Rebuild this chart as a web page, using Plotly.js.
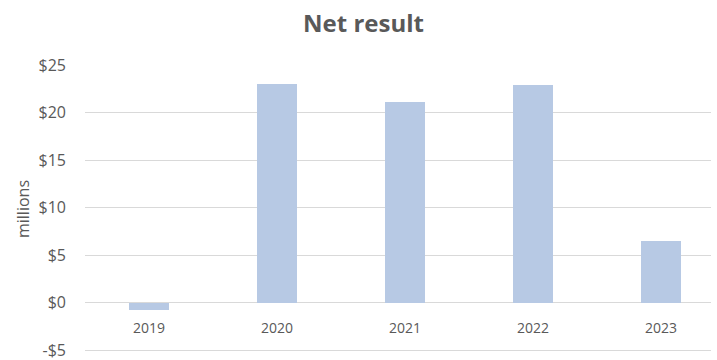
<!DOCTYPE html>
<html>
<head>
<meta charset="utf-8">
<script src="https://cdn.plot.ly/plotly-3.0.1.min.js"></script>
<style>html,body{margin:0;padding:0;background:#fff;overflow:hidden;width:717px;height:360px}#chart{width:717px;height:364px}</style>
</head>
<body>
<div id="chart"></div>
<script>
const years = ['2019', '2020', '2021', '2022', '2023'];
const netResult = [-0.8, 23.05, 21.15, 22.9, 6.45];
const yTickVals = [-5, 0, 5, 10, 15, 20, 25];
const yTickText = ['-$5', '$0', '$5', '$10', '$15', '$20', '$25'];

const grey = '#595959';
const yMin = -5.3, yMax = 25;
const trace = {
  type: 'bar',
  x: years.map((_, i) => i),
  y: netResult,
  width: 0.31,
  marker: {color: '#b7c9e4', line: {width: 0}},
  hoverinfo: 'skip'
};
const layout = {
  width: 717, height: 364,
  margin: {l: 85, r: 6, t: 65, b: 11, pad: 0},
  paper_bgcolor: '#ffffff', plot_bgcolor: '#ffffff',
  showlegend: false,
  font: {family: 'Open Sans, sans-serif', color: grey},
  title: {text: '<b>Net result</b>', x: 0.507, xref: 'container', xanchor: 'center',
          y: 1 - 24 / 364, yref: 'container', yanchor: 'middle',
          font: {size: 24, color: grey, family: 'Open Sans, sans-serif'}},
  xaxis: {
    range: [-0.5, 4.39], tickmode: 'array', tickvals: years.map((_, i) => i), ticktext: years,
    anchor: 'free', position: -yMin / (yMax - yMin), showgrid: false, zeroline: false, showline: false,
    ticks: '', ticklabelstandoff: 15, tickfont: {size: 14, color: grey}, fixedrange: true
  },
  yaxis: {
    range: [yMin, yMax], tickmode: 'array', tickvals: yTickVals, ticktext: yTickText,
    showgrid: true, gridcolor: '#d9d9d9', gridwidth: 1, zeroline: false, showline: false,
    ticks: '', ticklabelstandoff: 18, tickfont: {size: 16, color: grey},
    title: {text: 'millions', font: {size: 16, color: grey}, standoff: 4}, fixedrange: true
  },
  bargap: 0
};
Plotly.newPlot('chart', [trace], layout, {displayModeBar: false, staticPlot: true});
</script>
</body>
</html>
